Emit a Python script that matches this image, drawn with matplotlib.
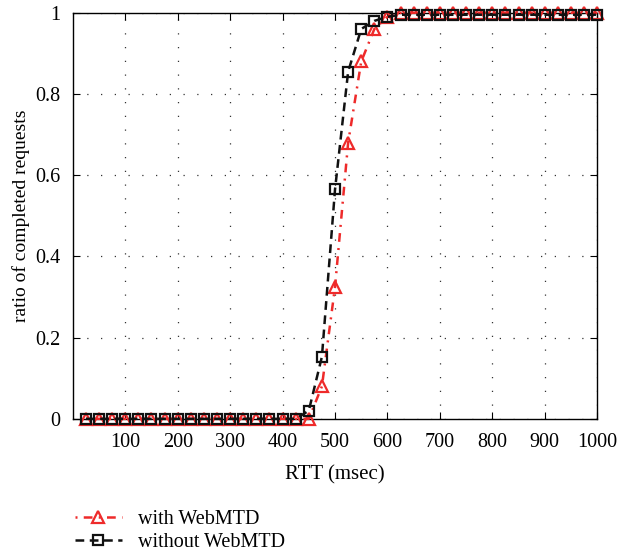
import matplotlib
matplotlib.use("Agg")
import matplotlib.pyplot as plt
import numpy as np

rtt = list(range(25, 1001, 25))
with_mtd = [0]*17 + [0.0, 0.08, 0.325, 0.68, 0.88, 0.96, 0.99, 1.0] + [1.0]*15
without_mtd = [0]*17 + [0.02, 0.153, 0.565, 0.855, 0.96, 0.98, 0.99, 0.995] + [0.995]*15

plt.rcParams['font.family'] = ['Liberation Serif', 'DejaVu Serif']
fig = plt.figure(figsize=(6.17, 5.54), dpi=100)
ax = fig.add_axes([0.118, 0.244, 0.850, 0.733])

ax.plot(rtt, with_mtd, color='#EE2A2A', linestyle=(6.0, (3.5, 2.5, 0.8, 2.5)), linewidth=1.8,
        marker='^', markersize=9, markerfacecolor='none', markeredgewidth=1.6,
        label='with WebMTD', zorder=3, clip_on=False)
ax.plot(rtt, without_mtd, color='#111111', linestyle=(0, (3.5, 2.2)), linewidth=1.8,
        marker='s', markersize=6.5, markerfacecolor='none', markeredgewidth=1.6,
        label='without WebMTD', zorder=4, clip_on=False)

ax.set_xlim(0, 1000)
ax.set_ylim(0, 1)
ax.set_xticks(range(100, 1001, 100))
ax.set_yticks([0, 0.2, 0.4, 0.6, 0.8, 1])
ax.set_yticklabels(['0', '0.2', '0.4', '0.6', '0.8', '1'])
ax.tick_params(direction='in', top=True, right=True, labelsize=14.5, length=5)
ax.tick_params(axis='x', pad=10)
ax.tick_params(axis='y', pad=9)
ax.grid(True, linestyle=(0, (1, 10)), color='#333333', linewidth=0.9)
ax.set_xlabel('RTT (msec)', fontsize=15, labelpad=10)
ax.set_ylabel('ratio of completed requests', fontsize=14, labelpad=4)
for s in ax.spines.values():
    s.set_linewidth(1.0)

ax.legend(loc='upper left', bbox_to_anchor=(-0.03, -0.18), frameon=False,
          fontsize=14.5, handlelength=2.3, labelspacing=0.2)

fig.savefig('out.png', dpi=100)
